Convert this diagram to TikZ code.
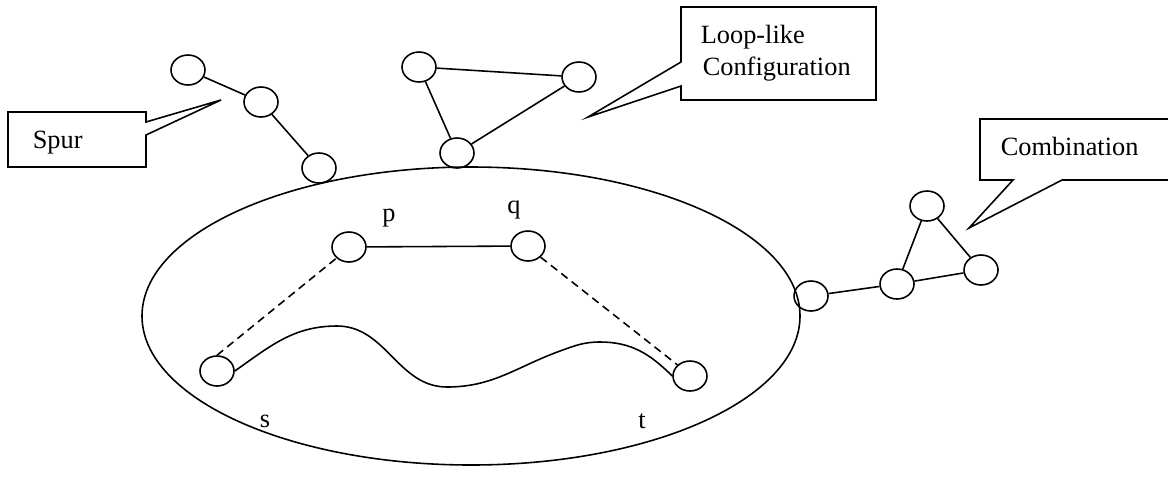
\documentclass[tikz,border=0pt]{standalone}
\usepackage{fontspec}
\setmainfont{Liberation Serif}
\usetikzlibrary{shapes.geometric}
\begin{document}
\begin{tikzpicture}[x=0.02cm,y=-0.02cm,line width=0.9pt,line join=miter,
        vtx/.style={draw,ellipse,minimum width=0.68cm,minimum height=0.6cm,inner sep=0pt},
        lbl/.style={font=\fontsize{15}{18}\selectfont,inner sep=0pt}]
        \useasboundingbox (0,0) rectangle (1168,487);
        % big region
        \draw (471,316) ellipse [x radius=329, y radius=149];
        % vertices
        \foreach \n/\x/\y in {sp1/188/70,sp2/261/102,sp3/319/168,
            lpA/419/67,lpB/579/77,lpC/457/153,
            cbL/811/296,cbM/897/284,cbT/927/206,cbR/981/270,
            p/349/247,q/528/246,s/217/371,t/690/376} {
            \node[vtx] (\n) at (\x,\y) {};
        }
        \foreach \a/\b in {sp1/sp2,sp2/sp3,lpA/lpB,lpA/lpC,lpB/lpC,
            cbL/cbM,cbM/cbT,cbT/cbR,cbM/cbR,p/q} {
            \draw (\a) -- (\b);
        }
        \draw[dash pattern=on 4.5pt off 3pt] (s.north) -- (p.south west);
        \draw[dash pattern=on 4.5pt off 3pt] (q.south east) -- (t.north west);
        \draw (s.east) to[out=35,in=180] (337,326) to[out=0,in=180] (447,387)
            to[out=0,in=200] (560,351) to[out=20,in=180] (600,342) to[out=0,in=135] (t.west);
        \foreach \n/\x/\y in {p/389/221,q/514/213,s/265/427,t/642/428} {
            \node[lbl,anchor=base] (\n lbl) at (\x,\y) {\n};
        }
        % callouts
        \draw (146,122) -- (221,100) -- (146,135) -- (146,167) -- (8,167) -- (8,112) -- (146,112) -- cycle;
        \node[lbl,anchor=base west] (spur) at (32,148) {Spur};
        \draw (681,62) -- (588,117) -- (681,86) -- (681,100) -- (876,100) -- (876,7) -- (681,7) -- cycle;
        \node[lbl,anchor=base west] (loopA) at (700,43) {Loop-like};
        \node[lbl,anchor=base west] (loopB) at (702,75) {Configuration};
        \draw (1172,180) -- (1062,180) -- (969,228) -- (1013,180) -- (980,180) -- (980,119) -- (1172,119);
        \node[lbl,anchor=base west] (comb) at (1000,155) {Combination};
\end{tikzpicture}
\end{document}
